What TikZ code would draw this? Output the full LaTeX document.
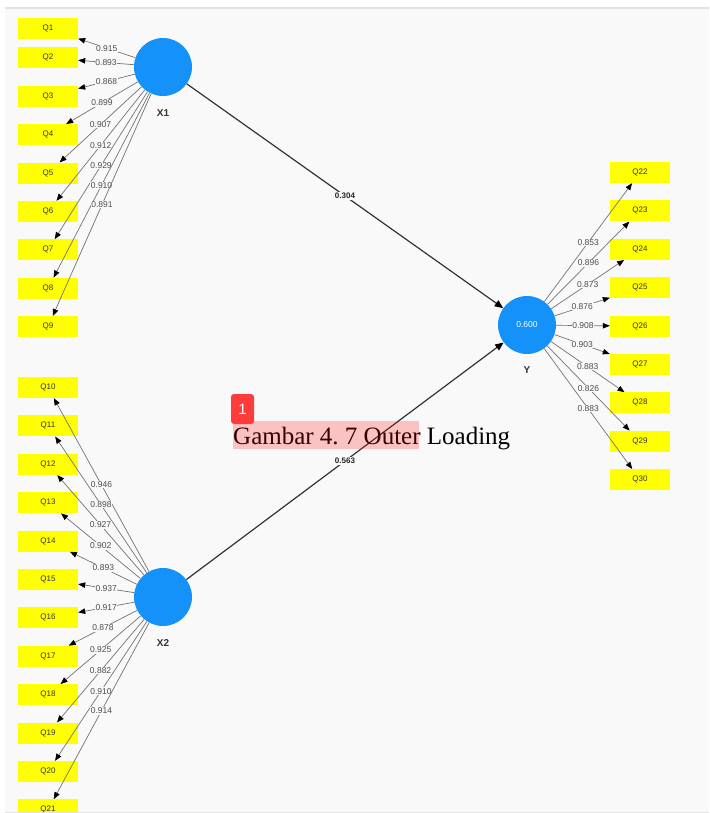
\documentclass[tikz,border=0pt]{standalone}
\usepackage{fontspec}
\setmainfont{Liberation Sans}
\newfontfamily\capfont{Liberation Serif}
\usepackage{xcolor}
\usepackage{tikz}
\usetikzlibrary{positioning,arrows.meta}
\definecolor{bgcol}{HTML}{F9F9F9}
\definecolor{framecol}{HTML}{E2E2E2}
\definecolor{qyellow}{HTML}{FFFF00}
\definecolor{latblue}{HTML}{1492FA}
\definecolor{badgered}{HTML}{FF3B3B}

\begin{document}
\begin{tikzpicture}[x=1pt,y=-1pt,node distance=17pt,
	ind/.style={rectangle,fill=qyellow,minimum width=60pt,minimum height=21pt,inner sep=0pt,
		font=\fontsize{8}{8}\selectfont,text=black!80},
	lat/.style={circle,fill=latblue,minimum size=58pt,inner sep=0pt,
		font=\fontsize{8.5}{8.5}\selectfont,text=white},
	latname/.style={font=\fontsize{10}{10}\selectfont\bfseries,text=black!80},
	load/.style={-{Triangle[length=7pt,width=5.5pt,color=black]},draw=black!55,line width=0.7pt},
	path/.style={-{Triangle[length=8.5pt,width=7pt,color=black]},draw=black!80,line width=1.2pt},
	wt/.style={fill=bgcol,inner sep=0.6pt,font=\fontsize{8.5}{8.5}\selectfont,text=black!70},
	pwt/.style={fill=bgcol,inner sep=0.8pt,font=\fontsize{8}{8}\selectfont\bfseries,text=black!85}]
	\useasboundingbox (0,0) rectangle (709,813);
	\fill[bgcol] (5,8) rectangle (709,812);
	\draw[framecol,line width=1.5pt] (5,8) -- (709,8);

	% latent variables
	\node[lat] (X1) at (163,67) {};
	\node[lat] (X2) at (163,597) {};
	\node[lat] (Y) at (527,325) {0.600};
	\node[latname] (nX1) at (163,113) {X1};
	\node[latname] (nX2) at (163,643) {X2};
	\node[latname] (nY) at (527,370) {Y};

	% indicators X1
	\node[ind] (Q1) at (48,28.5) {Q1};
	\node[ind] (Q2) [below=8pt of Q1] {Q2};
	\node[ind] (Q3) [below=of Q2] {Q3};
	\node[ind] (Q4) [below=of Q3] {Q4};
	\node[ind] (Q5) [below=of Q4] {Q5};
	\node[ind] (Q6) [below=of Q5] {Q6};
	\node[ind] (Q7) [below=of Q6] {Q7};
	\node[ind] (Q8) [below=of Q7] {Q8};
	\node[ind] (Q9) [below=of Q8] {Q9};

	% indicators X2
	\node[ind] (Q10) at (48,387.5) {Q10};
	\node[ind] (Q11) [below=of Q10] {Q11};
	\node[ind] (Q12) [below=of Q11] {Q12};
	\node[ind] (Q13) [below=of Q12] {Q13};
	\node[ind] (Q14) [below=of Q13] {Q14};
	\node[ind] (Q15) [below=of Q14] {Q15};
	\node[ind] (Q16) [below=of Q15] {Q16};
	\node[ind] (Q17) [below=of Q16] {Q17};
	\node[ind] (Q18) [below=of Q17] {Q18};
	\node[ind] (Q19) [below=of Q18] {Q19};
	\node[ind] (Q20) [below=of Q19] {Q20};
	\node[ind] (Q21) [below=of Q20] {Q21};

	% indicators Y
	\node[ind] (Q22) at (640,172.5) {Q22};
	\node[ind] (Q23) [below=of Q22] {Q23};
	\node[ind] (Q24) [below=of Q23] {Q24};
	\node[ind] (Q25) [below=of Q24] {Q25};
	\node[ind] (Q26) [below=of Q25] {Q26};
	\node[ind] (Q27) [below=of Q26] {Q27};
	\node[ind] (Q28) [below=of Q27] {Q28};
	\node[ind] (Q29) [below=of Q28] {Q29};
	\node[ind] (Q30) [below=of Q29] {Q30};

	% outer loadings
	\draw[load] (X1) edge node[wt]{0.915} (Q1)
		(X1) edge node[wt]{0.893} (Q2)
		(X1) edge node[wt]{0.868} (Q3)
		(X1) edge node[wt]{0.899} (Q4)
		(X1) edge node[wt]{0.907} (Q5)
		(X1) edge node[wt]{0.912} (Q6)
		(X1) edge node[wt]{0.929} (Q7)
		(X1) edge node[wt]{0.910} (Q8)
		(X1) edge node[wt]{0.891} (Q9);

	\draw[load] (X2) edge node[wt]{0.946} (Q10)
		(X2) edge node[wt]{0.898} (Q11)
		(X2) edge node[wt]{0.927} (Q12)
		(X2) edge node[wt]{0.902} (Q13)
		(X2) edge node[wt]{0.893} (Q14)
		(X2) edge node[wt]{0.937} (Q15)
		(X2) edge node[wt]{0.917} (Q16)
		(X2) edge node[wt]{0.878} (Q17)
		(X2) edge node[wt]{0.925} (Q18)
		(X2) edge node[wt]{0.882} (Q19)
		(X2) edge node[wt]{0.910} (Q20)
		(X2) edge node[wt]{0.914} (Q21);

	\draw[load] (Y) edge node[wt]{0.853} (Q22)
		(Y) edge node[wt]{0.896} (Q23)
		(Y) edge node[wt]{0.873} (Q24)
		(Y) edge node[wt]{0.876} (Q25)
		(Y) edge node[wt]{0.908} (Q26)
		(Y) edge node[wt]{0.903} (Q27)
		(Y) edge node[wt]{0.883} (Q28)
		(Y) edge node[wt]{0.826} (Q29)
		(Y) edge node[wt]{0.883} (Q30);

	% inner model
	\draw[path] (X1) -- node[pwt]{0.304} (Y);
	\draw[path] (X2) -- node[pwt]{0.563} (Y);

	% caption
	\node[anchor=base west,inner sep=0pt,font=\capfont\fontsize{25}{25}\selectfont] (cap) at (233,444.5) {Gambar 4.\ 7 Outer Loading};
	\fill[red,fill opacity=0.22] (233,421) rectangle (419,449);
	\node[fill=badgered,rounded corners=3pt,minimum width=23pt,minimum height=30pt,inner sep=0pt,
		text=white,font=\fontsize{15}{15}\selectfont] (badge) at (242.5,409) {1};

	\draw[framecol,line width=2pt] (5,812.5) -- (709,812.5);
\end{tikzpicture}
\end{document}
